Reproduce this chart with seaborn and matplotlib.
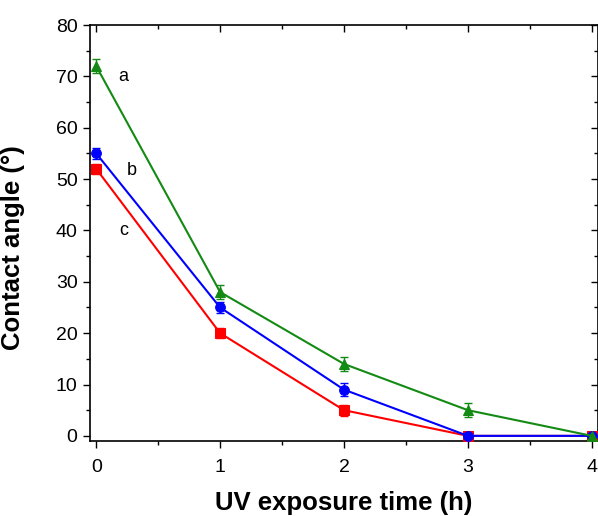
import numpy as np
import pandas as pd
import matplotlib
matplotlib.use("Agg")
import matplotlib.pyplot as plt
import seaborn as sns
from matplotlib.ticker import MultipleLocator

# data
time_h = [0, 1, 2, 3, 4]
angle_a = [72, 28, 14, 5, 0]
angle_b = [55, 25, 9, 0, 0]
angle_c = [52, 20, 5, 0, 0]
err_a = [1.3, 1.3, 1.3, 1.4, 0.8]
err_b = [1.1, 1.1, 1.2, 0.8, 0.8]
err_c = [1.0, 1.0, 1.1, 0.8, 0.8]
series_names = ["a", "b", "c"]

sns.set_style("ticks")
plt.rcParams['font.family'] = ['Liberation Sans', 'DejaVu Sans']
plt.rcParams['text.color'] = 'black'
plt.rcParams['axes.labelcolor'] = 'black'
plt.rcParams['xtick.color'] = 'black'
plt.rcParams['ytick.color'] = 'black'

df = pd.DataFrame({
    "time": time_h * 3,
    "angle": angle_a + angle_b + angle_c,
    "err": err_a + err_b + err_c,
    "sample": [n for n in series_names for _ in time_h],
})

colors = {"a": "#138a13", "b": "#0000ff", "c": "#ff0000"}
markers = {"a": "^", "b": "o", "c": "s"}

fig = plt.figure(figsize=(5.98, 5.16), dpi=100)
ax = fig.add_axes([90/598, 1 - 441/516, 1 - 90/598, (441 - 25)/516])

# draw c first so a ends on top
for name in ["c", "b", "a"]:
    sub = df[df["sample"] == name]
    ax.errorbar(sub["time"], sub["angle"], yerr=sub["err"], fmt="none",
                ecolor=colors[name], elinewidth=1, capsize=3, zorder=2)
sns.lineplot(data=df, x="time", y="angle", hue="sample", style="sample",
             palette=colors, markers=markers, dashes=False, markersize=7,
             markeredgecolor=None, linewidth=1.5, legend=False, ax=ax,
             hue_order=["c", "b", "a"], zorder=3)

ax.text(0.18, 70, "a", fontsize=13, va="center", ha="left")
ax.text(0.25, 51.7, "b", fontsize=13, va="center", ha="left")
ax.text(0.19, 40, "c", fontsize=13, va="center", ha="left")

ax.set_xlim(-0.05, 4.05)
ax.set_ylim(-1, 80)
ax.xaxis.set_major_locator(MultipleLocator(1))
ax.xaxis.set_minor_locator(MultipleLocator(0.5))
ax.yaxis.set_major_locator(MultipleLocator(10))
ax.yaxis.set_minor_locator(MultipleLocator(5))
ax.tick_params(which="both", labelsize=14, width=1)
ax.tick_params(which="major", length=5)
ax.tick_params(which="minor", length=3)
ax.tick_params(axis="x", which="both", bottom=True, top=True, pad=8)
ax.tick_params(axis="y", which="both", left=True, right=True, pad=4)
ax.xaxis.set_tick_params(which="both", direction="out")
for t in ax.xaxis.get_major_ticks() + ax.xaxis.get_minor_ticks():
    t.tick2line.set_marker(3)  # top ticks point inward
for t in ax.yaxis.get_major_ticks() + ax.yaxis.get_minor_ticks():
    t.tick2line.set_marker(0)  # right ticks point inward
for s in ax.spines.values():
    s.set_linewidth(1.2)
    s.set_color("black")

ax.set_xlabel("UV exposure time (h)", fontsize=18.5, fontweight="bold", labelpad=11)
ax.set_ylabel("Contact angle (°)", fontsize=18.5, fontweight="bold")
ax.yaxis.set_label_coords(-0.128, 0.466)

fig.savefig("out.png", dpi=100)
